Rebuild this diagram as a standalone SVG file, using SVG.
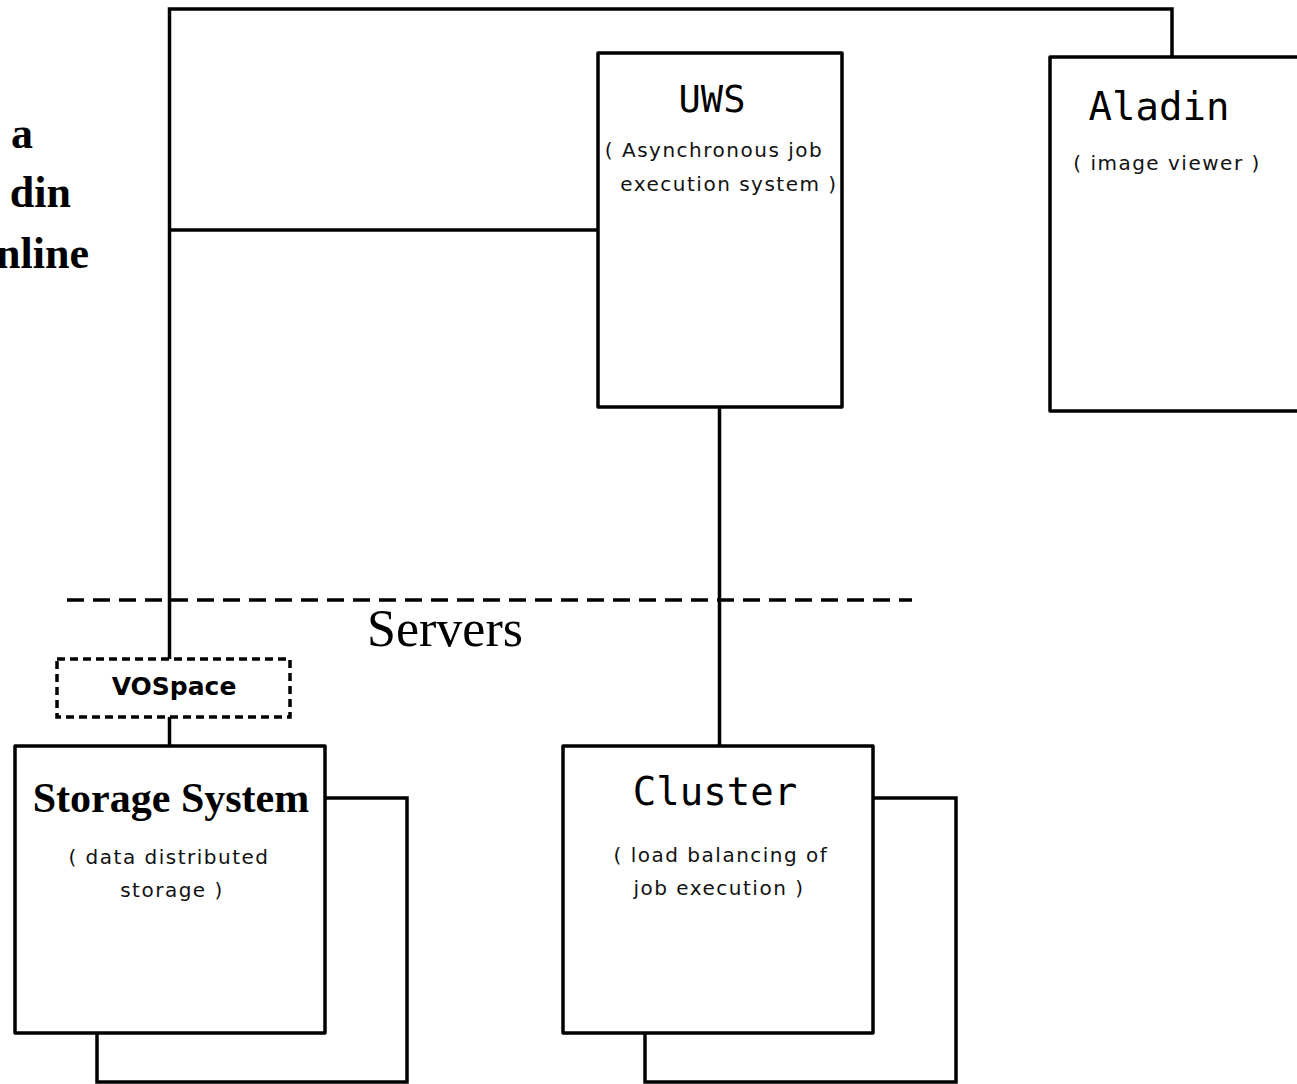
<svg xmlns="http://www.w3.org/2000/svg" width="1297" height="1084" viewBox="0 0 1297 1084">
<style>
.box{fill:#fff;stroke:#000;stroke-width:3.5;stroke-linejoin:round}
.ln{fill:none;stroke:#000;stroke-width:3.5}
.mono{font-family:"DejaVu Sans Mono",monospace;fill:#000}
.sub{font-family:"DejaVu Sans",sans-serif;font-size:20px;letter-spacing:1.5px;fill:#111;text-anchor:middle}
.serifb{font-family:"Liberation Serif",serif;font-weight:bold;fill:#000}
</style>
<rect width="1297" height="1084" fill="#fff"/>
<g id="side-text" class="serifb" font-size="44" text-anchor="end">
<text x="33" y="148">a</text>
<text x="71" y="207">din</text>
<text x="89" y="268">nline</text>
</g>
<g id="connectors">
<polyline class="ln" points="169.5,659 169.5,9 1172,9 1172,57"/>
<line class="ln" x1="169.5" y1="230" x2="598" y2="230"/>
<line class="ln" x1="719.5" y1="407" x2="719.5" y2="746"/>
<line class="ln" x1="169.5" y1="717" x2="169.5" y2="746"/>
</g>
<g id="servers-divider">
<line x1="67" y1="600" x2="912" y2="600" stroke="#000" stroke-width="3.5" stroke-dasharray="17 9"/>
<text x="445" y="646" font-family="Liberation Serif,serif" font-size="52" text-anchor="middle">Servers</text>
</g>
<g id="uws">
<rect class="box" x="598" y="53" width="244" height="354"/>
<text class="mono" x="712" y="112" font-size="37" text-anchor="middle">UWS</text>
<text class="sub" x="714" y="157">( Asynchronous job</text>
<text class="sub" x="729" y="191">execution system )</text>
</g>
<g id="aladin">
<rect class="box" x="1050" y="57" width="260" height="354"/>
<text class="mono" x="1159" y="120" font-size="39" text-anchor="middle">Aladin</text>
<text class="sub" x="1167" y="170">( image viewer )</text>
</g>
<g id="vospace">
<rect x="57" y="659" width="233" height="58" fill="#fff" stroke="#000" stroke-width="3.5" stroke-dasharray="8 5"/>
<text x="174" y="695" font-family="DejaVu Sans,sans-serif" font-weight="bold" font-size="25" text-anchor="middle">VOSpace</text>
</g>
<g id="storage">
<polyline class="ln" points="325,798 407,798 407,1082 97,1082 97,1033"/>
<rect class="box" x="15" y="746" width="310" height="287"/>
<text class="serifb" x="171" y="812" font-size="42" text-anchor="middle">Storage System</text>
<text class="sub" x="169" y="864">( data distributed</text>
<text class="sub" x="172" y="897">storage )</text>
</g>
<g id="cluster">
<polyline class="ln" points="873,798 956,798 956,1082 645,1082 645,1033"/>
<rect class="box" x="563" y="746" width="310" height="287"/>
<text class="mono" x="715" y="805" font-size="39" text-anchor="middle">Cluster</text>
<text class="sub" x="721" y="862">( load balancing of</text>
<text class="sub" x="719" y="895">job execution )</text>
</g>
</svg>
